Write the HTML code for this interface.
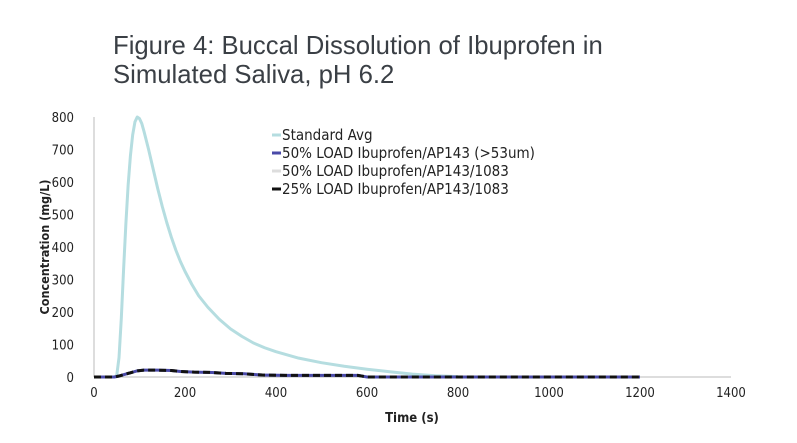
<!DOCTYPE html>
<html><head><meta charset="utf-8"><style>
body{margin:0;background:#fff;width:797px;height:438px;overflow:hidden}
svg text{font-family:"DejaVu Sans Condensed","DejaVu Sans","Liberation Sans",sans-serif}
svg text.ttl{font-family:"Liberation Sans",sans-serif}
</style></head><body>
<svg width="797" height="438">
<text class="ttl" x="113" y="54" font-size="25.7" fill="#3a3f45">Figure 4: Buccal Dissolution of Ibuprofen in</text>
<text class="ttl" x="113" y="83" font-size="25.7" fill="#3a3f45">Simulated Saliva, pH 6.2</text>
<g id="axes"></g>
<g id="series"></g>
<g id="legend"></g>
</svg>
<script>
const xTicks=[0,200,400,600,800,1000,1200,1400];
const yTicks=[0,100,200,300,400,500,600,700,800];
const stdT=[0,45,50,55,60,65,70,75,80,85,90,95,100,105,110,120,130,140,150,160,170,180,190,200,215,230,250,275,300,325,350,375,400,450,500,550,600,650,700,750,800];
const stdV=[0,0,5,60,180,330,470,590,680,745,785,800,795,780,755,700,640,580,525,475,430,390,355,325,285,250,215,178,148,125,105,90,78,58,44,33,24,16,9,4,1];
const lowT=[0,45,55,65,80,95,110,140,170,190,220,260,290,330,370,420,480,580,600,700,900,1200];
const load50V=[0,0,3,7,13,19,21,21,20,17,15,14,11,10,6,5,5,5,0,0,0,0];
const load25V=[0,0,3,7,13,19,21,21,20,17,15,14,11,10,6,5,5,5,0,0,0,0];
const ns="http://www.w3.org/2000/svg";
const X=v=>94+v*(731-94)/1400, Y=v=>377-v*(377-117)/800;
function mk(t,a,p){const e=document.createElementNS(ns,t);for(const k in a)e.setAttribute(k,a[k]);p.appendChild(e);return e;}
const ax=document.getElementById('axes');
let l=mk('line',{x1:94,y1:Y(0),x2:731,y2:Y(0),stroke:'#bbb','stroke-width':1},ax);


l=mk('line',{x1:94,y1:Y(800),x2:94,y2:Y(0),stroke:'#bbb','stroke-width':1},ax);


xTicks.forEach(v=>{const t=mk('text',{x:X(v),y:397,'font-size':13,'text-anchor':'middle',fill:'#222'},ax);t.textContent=v;

});
yTicks.forEach(v=>{const t=mk('text',{x:74,y:Y(v)+5,'font-size':13,'text-anchor':'end',fill:'#222'},ax);t.textContent=v;

});
let t=mk('text',{x:412,y:422,'font-size':13,'font-weight':'bold','text-anchor':'middle',fill:'#222'},ax);t.textContent='Time (s)';


t=mk('text',{x:0,y:0,'font-size':12.5,'font-weight':'bold','text-anchor':'middle',fill:'#222',transform:'translate(49,247) rotate(-90)'},ax);t.textContent='Concentration (mg/L)';


const sg=document.getElementById('series');
function pts(ts,vs){return ts.map((x,i)=>X(x)+','+Y(vs[i])).join(' ');}
let p=mk('polyline',{points:pts(stdT,stdV),fill:'none',stroke:'#b5dde0','stroke-width':3,'stroke-linejoin':'round'},sg);


p=mk('polyline',{points:pts(lowT,load50V),fill:'none',stroke:'#4a4aa8','stroke-width':3},sg);


p=mk('polyline',{points:pts(lowT,load25V),fill:'none',stroke:'#111','stroke-width':3,'stroke-dasharray':'7,4'},sg);


const lg=document.getElementById('legend');
const legItems=[['Standard Avg','#b5dde0'],['50% LOAD Ibuprofen/AP143 (>53um)','#4a4aa8'],['50% LOAD Ibuprofen/AP143/1083','#ddd'],['25% LOAD Ibuprofen/AP143/1083','#111']];
legItems.forEach((it,i)=>{const y=135+i*18;
const ln=mk('line',{x1:272,y1:y,x2:281,y2:y,stroke:it[1],'stroke-width':3},lg);


const tx=mk('text',{x:282,y:y+5,'font-size':15,fill:'#222'},lg);tx.textContent=it[0];

});
</script>
</body></html>
